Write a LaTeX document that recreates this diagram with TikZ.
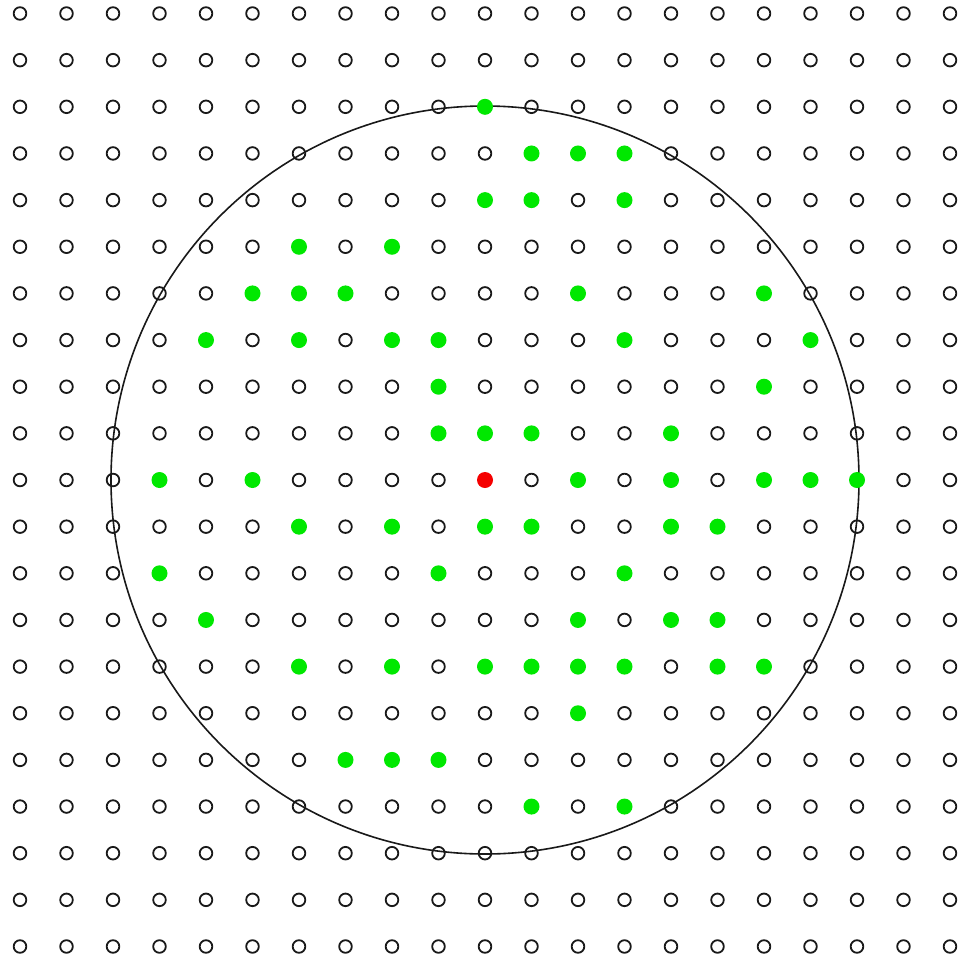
\documentclass[tikz,border=0pt]{standalone}
\definecolor{dotgreen}{RGB}{0,232,0}
\definecolor{dotred}{RGB}{245,0,0}
\tikzset{
  hollow/.style={draw=black!90,line width=1.8pt},
  bigring/.style={draw=black!90,line width=1.6pt},
  greendot/.style={fill=dotgreen},
  reddot/.style={fill=dotred}
}
\begin{document}
\begin{tikzpicture}[x=1pt,y=-1pt]
\useasboundingbox[fill=white] (0,0) rectangle (961,962);
\foreach \i in {0,...,20}{
  \foreach \j in {0,...,20}{
    \draw[hollow] ({20+46.5*\i},{13.5+46.65*\j}) circle (6.3);
  }
}
\draw[bigring] ({20+46.5*10},{13.5+46.65*10}) circle (374);
\foreach \i/\j in {10/2,11/3,12/3,13/3,10/4,11/4,13/4,6/5,8/5,5/6,6/6,7/6,12/6,16/6,4/7,6/7,8/7,9/7,13/7,17/7,9/8,16/8,9/9,10/9,11/9,14/9,3/10,5/10,12/10,14/10,16/10,17/10,18/10,6/11,8/11,10/11,11/11,14/11,15/11,3/12,9/12,13/12,4/13,12/13,14/13,15/13,6/14,8/14,10/14,11/14,12/14,13/14,15/14,16/14,12/15,7/16,8/16,9/16,11/17,13/17}{
  \fill[greendot] ({20+46.5*\i},{13.5+46.65*\j}) circle (8);
}
\fill[reddot] ({20+46.5*10},{13.5+46.65*10}) circle (8);
\end{tikzpicture}
\end{document}
